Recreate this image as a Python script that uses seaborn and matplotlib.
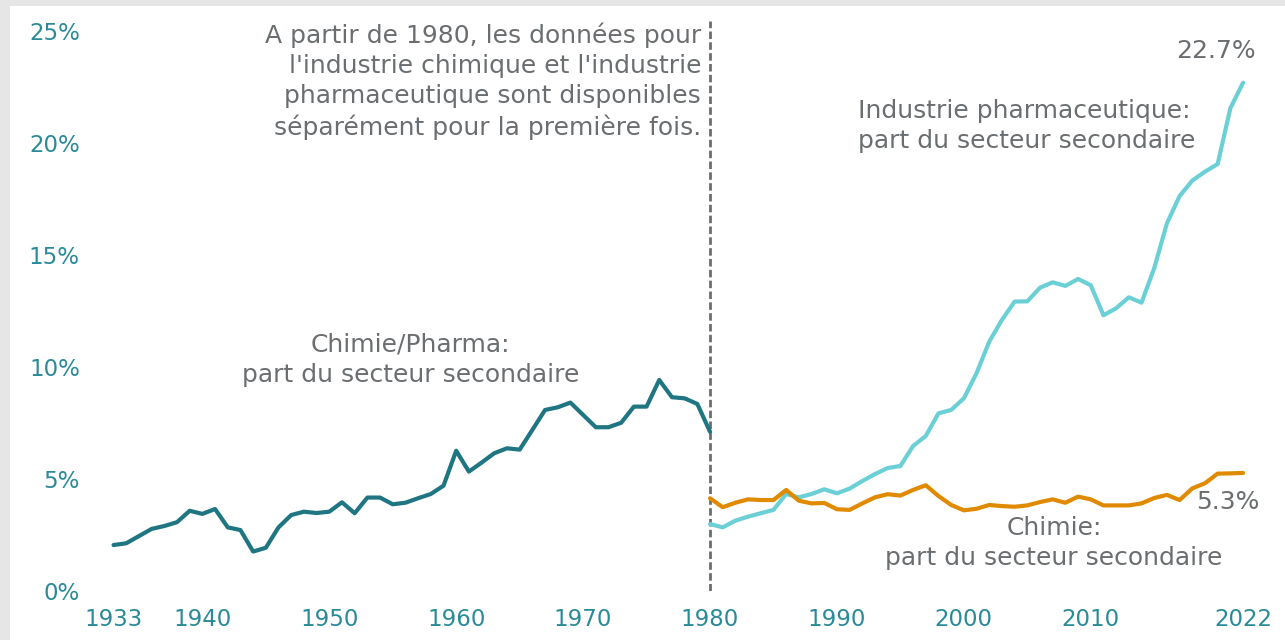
import numpy as np
import pandas as pd
import matplotlib
matplotlib.use("Agg")
import matplotlib.pyplot as plt
from matplotlib.patches import Rectangle
import seaborn as sns

# ---- data ----
years_early = list(range(1933, 1981))
chem_pharma = [2.05, 2.13, 2.45, 2.77, 2.90, 3.07, 3.58, 3.44, 3.66, 2.84,
               2.72, 1.76, 1.93, 2.84, 3.39, 3.54, 3.48, 3.54, 3.96, 3.47,
               4.17, 4.17, 3.87, 3.94, 4.14, 4.33, 4.70, 6.26, 5.33, 5.73,
               6.15, 6.37, 6.31, 7.19, 8.08, 8.20, 8.41, 7.86, 7.31, 7.31,
               7.51, 8.23, 8.23, 9.42, 8.65, 8.60, 8.35, 7.11]

years_late = list(range(1980, 2023))
chimie = [4.14, 3.74, 3.94, 4.09, 4.06, 4.06, 4.51, 4.03, 3.91, 3.93,
          3.65, 3.62, 3.91, 4.18, 4.32, 4.26, 4.51, 4.72, 4.24, 3.84,
          3.60, 3.67, 3.84, 3.79, 3.76, 3.82, 3.97, 4.09, 3.94, 4.21,
          4.09, 3.82, 3.82, 3.82, 3.91, 4.15, 4.29, 4.06, 4.58, 4.81,
          5.24, 5.25, 5.27]
pharma = [2.99, 2.84, 3.14, 3.32, 3.47, 3.62, 4.33, 4.18, 4.33, 4.54,
          4.36, 4.57, 4.91, 5.22, 5.49, 5.58, 6.47, 6.92, 7.93, 8.08,
          8.60, 9.72, 11.13, 12.10, 12.92, 12.93, 13.54, 13.78, 13.62, 13.93,
          13.65, 12.31, 12.62, 13.11, 12.87, 14.41, 16.41, 17.63, 18.32, 18.72,
          19.06, 21.55, 22.69]

x_ticks = [1933, 1940, 1950, 1960, 1970, 1980, 1990, 2000, 2010, 2022]
y_ticks = [0, 5, 10, 15, 20, 25]
y_labels = ["0%", "5%", "10%", "15%", "20%", "25%"]

# ---- style ----
sns.set_theme(style="white")
plt.rcParams['font.family'] = ['DejaVu Sans']

C_DARK = "#1f7682"
C_CYAN = "#6bcfd6"
C_ORANGE = "#e08a00"
C_TEXT = "#6b6e70"
C_TICK = "#2a8a98"

fig = plt.figure(figsize=(12.85, 6.4), dpi=100)
fig.patch.set_facecolor("#e6e6e6")
bg = Rectangle((10 / 1285, 0), 1, 634 / 640, transform=fig.transFigure,
               facecolor="white", edgecolor="none", zorder=-10)
fig.add_artist(bg)

ax = fig.add_axes([0.0686, 0.0766, 0.9185, 0.8925])
ax.set_facecolor("none")
ax.set_zorder(1)

df_early = pd.DataFrame({"year": years_early, "value": chem_pharma})
df_chim = pd.DataFrame({"year": years_late, "value": chimie})
df_pharma = pd.DataFrame({"year": years_late, "value": pharma})

lw = 3.0
sns.lineplot(data=df_early, x="year", y="value", ax=ax, color=C_DARK, linewidth=lw)
sns.lineplot(data=df_pharma, x="year", y="value", ax=ax, color=C_CYAN, linewidth=lw)
sns.lineplot(data=df_chim, x="year", y="value", ax=ax, color=C_ORANGE, linewidth=lw)

ax.axvline(1980, ymin=0, ymax=0.997, color=C_TEXT, linestyle=(0, (2.7, 1.2)),
           linewidth=2.0, zorder=0)

ax.set_xlim(1931, 2024)
ax.set_ylim(0, 25.5)
ax.set_xticks(x_ticks)
ax.set_xticklabels([str(t) for t in x_ticks])
ax.set_yticks(y_ticks)
ax.set_yticklabels(y_labels)
ax.tick_params(axis="both", length=0, labelsize=16.5, colors=C_TICK)
ax.tick_params(axis="x", pad=12)
ax.tick_params(axis="y", pad=6)
for s in ax.spines.values():
    s.set_visible(False)
ax.set_xlabel("")
ax.set_ylabel("")
ax.grid(False)

fs = 18
ls = 1.32
ax.text(1979.3, 22.75,
        "A partir de 1980, les données pour\nl'industrie chimique et l'industrie\n"
        "pharmaceutique sont disponibles\nséparément pour la première fois.",
        ha="right", va="center", multialignment="right", fontsize=fs, color=C_TEXT,
        linespacing=ls)
ax.text(1956.4, 10.33, "Chimie/Pharma:\npart du secteur secondaire",
        ha="center", va="center", multialignment="center", fontsize=fs, color=C_TEXT,
        linespacing=ls)
ax.text(1991.66, 20.74, "Industrie pharmaceutique:\npart du secteur secondaire",
        ha="left", va="center", multialignment="left", fontsize=fs, color=C_TEXT,
        linespacing=ls)
ax.text(2007.1, 2.14, "Chimie:\npart du secteur secondaire",
        ha="center", va="center", multialignment="center", fontsize=fs, color=C_TEXT,
        linespacing=ls)
ax.text(2019.9, 24.1, f"{pharma[-1]:.1f}%", ha="center", va="center",
        fontsize=fs, color=C_TEXT)
ax.text(2020.8, 3.95, f"{chimie[-1]:.1f}%", ha="center", va="center",
        fontsize=fs, color=C_TEXT)

fig.savefig("out.png", dpi=100, facecolor=fig.get_facecolor())
